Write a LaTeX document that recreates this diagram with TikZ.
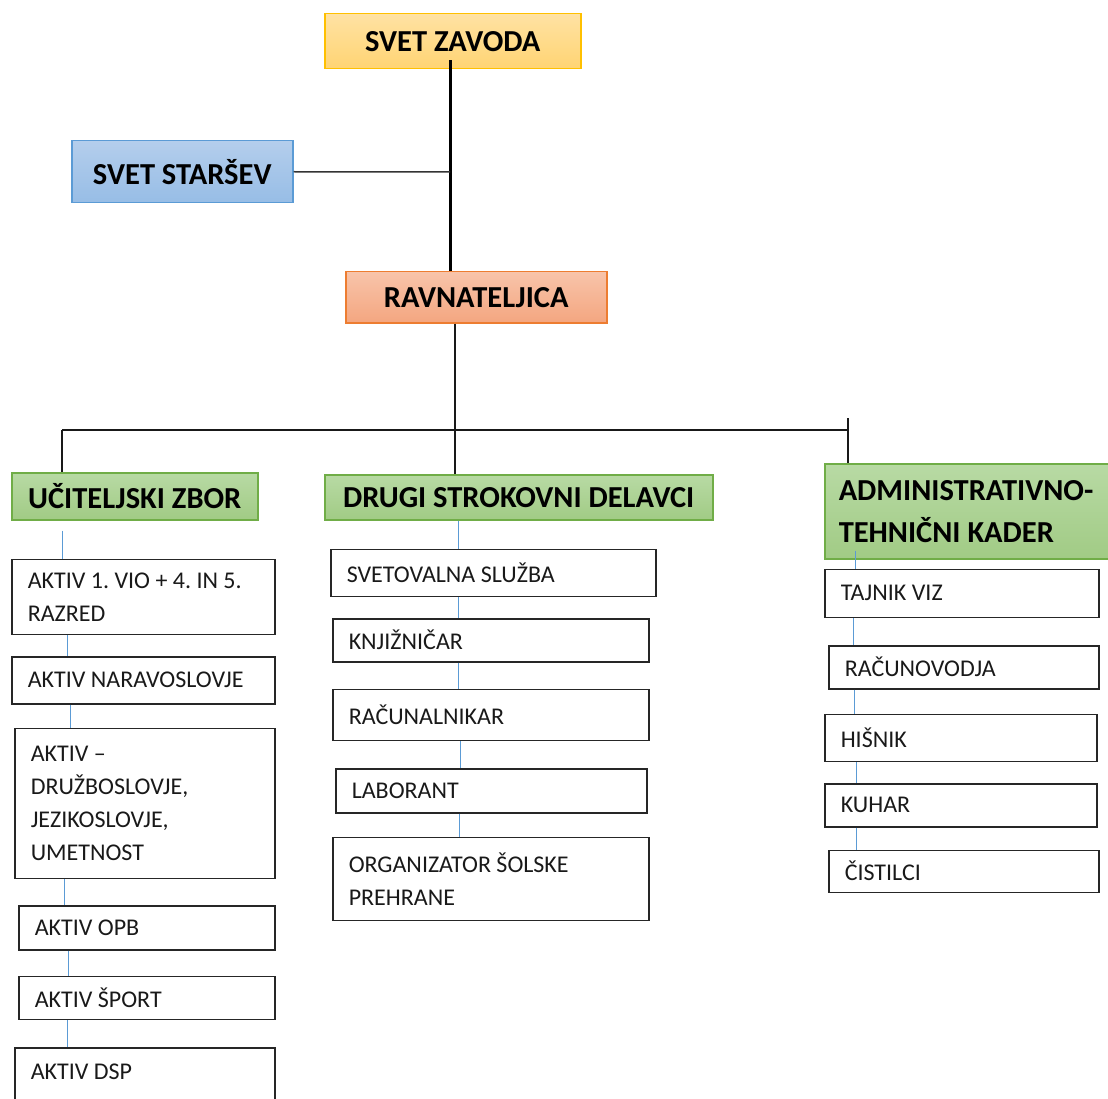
\documentclass[tikz,border=0pt]{standalone}
\usepackage{fontspec}
\setmainfont{Carlito}
\usetikzlibrary{positioning}

\definecolor{zavodline}{HTML}{FFC000}
\definecolor{zavodtop}{HTML}{FFE2A3}
\definecolor{zavodbot}{HTML}{FFD473}
\definecolor{starline}{HTML}{5B9BD5}
\definecolor{startop}{HTML}{B4CEEC}
\definecolor{starbot}{HTML}{97BDE6}
\definecolor{ravnline}{HTML}{ED7D31}
\definecolor{ravntop}{HTML}{F8C4AA}
\definecolor{ravnbot}{HTML}{F4A680}
\definecolor{greenline}{HTML}{70AD47}
\definecolor{greentop}{HTML}{B8DAA4}
\definecolor{greenbot}{HTML}{A1CB85}
\definecolor{linkblue}{HTML}{5B9BD5}

\tikzset{
  headbox/.style={draw, line width=1.5pt, inner sep=0pt, text=black,
    font=\fontsize{30.5}{42}\selectfont\bfseries\frenchspacing},
  zavodbox/.style={headbox, draw=zavodline, top color=zavodtop, bottom color=zavodbot},
  starbox/.style={headbox, draw=starline, top color=startop, bottom color=starbot},
  ravnbox/.style={headbox, draw=ravnline, top color=ravntop, bottom color=ravnbot},
  groupbox/.style={headbox, draw=greenline, top color=greentop, bottom color=greenbot},
  unit/.style={draw=black!85, line width=1.5pt, inner xsep=16pt, inner ysep=0pt,
    align=flush left, text=black!90, font=\fontsize{24}{33}\selectfont\frenchspacing},
  tree/.style={line width=2pt, black!90},
  link/.style={line width=1pt, linkblue}
}

\begin{document}
\begin{tikzpicture}
    \useasboundingbox (0,0) rectangle (1108pt,-1099pt);
    \clip (0,0) rectangle (1108pt,-1099pt);
    % vodstvo
    \node[zavodbox, anchor=north west, minimum width=256pt, minimum height=55pt] (zavod) at (324pt,-13pt) {SVET ZAVODA};
    \node[starbox, anchor=north west, minimum width=221pt, minimum height=62pt] (starsev) at (71pt,-140pt) {SVET STARŠEV};
    \node[ravnbox, anchor=north west, minimum width=261pt, minimum height=51pt] (ravn) at (345pt,-271pt) {RAVNATELJICA};
    % skupine
    \node[groupbox, anchor=north west, minimum width=246pt, minimum height=47pt] (ucit) at (11pt,-472pt) {UČITELJSKI ZBOR};
    \node[groupbox, anchor=north west, minimum width=388pt, minimum height=45pt] (drugi) at (324pt,-474pt) {DRUGI STROKOVNI DELAVCI};
    \node[groupbox, anchor=north west, inner xsep=14pt, text width=256pt, align=flush left, minimum height=95pt] (admin) at (824pt,-463pt) {ADMINISTRATIVNO-\\TEHNIČNI KADER};
    % aktivi
    \node[unit, below=38pt of ucit.south west, anchor=north west, text width=231pt, minimum height=75pt] (akt1) {AKTIV 1. VIO + 4. IN 5.\\RAZRED};
    \node[unit, below=21pt of akt1.south west, anchor=north west, text width=231pt, minimum height=47pt] (aktnar) {AKTIV NARAVOSLOVJE};
    \node[unit, below=23pt of aktnar.south west, anchor=north west, xshift=3pt, text width=228pt, minimum height=150pt] (aktdru) {AKTIV --\\DRUŽBOSLOVJE,\\JEZIKOSLOVJE,\\UMETNOST};
    \node[unit, below=26pt of aktdru.south west, anchor=north west, xshift=4pt, text width=224pt, minimum height=44pt] (aktopb) {AKTIV OPB};
    \node[unit, below=25pt of aktopb.south west, anchor=north west, text width=224pt, minimum height=43pt] (aktsport) {AKTIV ŠPORT};
    \node[unit, below=27pt of aktsport.south west, anchor=north west, xshift=-4pt, text width=228pt, minimum height=70pt, text depth=22pt] (aktdsp) {AKTIV DSP};
    % strokovni delavci
    \node[unit, below=28pt of drugi.south west, anchor=north west, xshift=6pt, text width=293pt, minimum height=47pt] (svet) {SVETOVALNA SLUŽBA};
    \node[unit, below=21pt of svet.south west, anchor=north west, xshift=2pt, text width=284pt, minimum height=43pt] (knj) {KNJIŽNIČAR};
    \node[unit, below=26pt of knj.south west, anchor=north west, text width=284pt, minimum height=51pt] (rac) {RAČUNALNIKAR};
    \node[unit, below=27pt of rac.south west, anchor=north west, xshift=3pt, text width=279pt, minimum height=44pt] (lab) {LABORANT};
    \node[unit, below=23pt of lab.south west, anchor=north west, xshift=-3pt, text width=284pt, minimum height=83pt] (org) {ORGANIZATOR ŠOLSKE\\PREHRANE};
    % administrativno-tehnicni kader
    \node[unit, below=9pt of admin.south west, anchor=north west, text width=242pt, minimum height=48pt] (tajnik) {TAJNIK VIZ};
    \node[unit, below=27pt of tajnik.south west, anchor=north west, xshift=4pt, text width=238pt, minimum height=43pt] (racun) {RAČUNOVODJA};
    \node[unit, below=24pt of racun.south west, anchor=north west, xshift=-4pt, text width=240pt, minimum height=47pt] (hisnik) {HIŠNIK};
    \node[unit, below=21pt of hisnik.south west, anchor=north west, text width=240pt, minimum height=43pt] (kuhar) {KUHAR};
    \node[unit, below=22pt of kuhar.south west, anchor=north west, xshift=4pt, text width=238pt, minimum height=42pt] (cist) {ČISTILCI};
    % povezave
    \coordinate (join) at (450pt,-172pt);
    \coordinate (bus) at (455pt,-430pt);
    \coordinate (busL) at (62pt,-430pt);
    \coordinate (busR) at (848pt,-430pt);
    \draw[line width=3pt] ([xshift=-2pt,yshift=9pt]zavod.south) -- ([xshift=-2pt]zavod.south |- ravn.north);
    \draw[line width=1.5pt, black!80] (starsev.east) -- (join);
    \draw[tree] (ravn.south -| bus) -- (bus);
    \draw[tree] (busL) -- (busR);
    \draw[tree] (busL) -- (busL |- ucit.north);
    \draw[tree] (bus) -- (bus |- drugi.north);
    \draw[tree] ([yshift=12pt]busR) -- (busR |- admin.north);
    \draw[link] ([xshift=51pt,yshift=-10pt]ucit.south west) -- ([xshift=51pt]ucit.south west |- akt1.north);
    \draw[link] ([xshift=56pt]akt1.south west) -- ([xshift=56pt]akt1.south west |- aktnar.north);
    \draw[link] ([xshift=59pt]aktnar.south west) -- ([xshift=59pt]aktnar.south west |- aktdru.north);
    \draw[link] ([xshift=50pt]aktdru.south west) -- ([xshift=50pt]aktdru.south west |- aktopb.north);
    \draw[link] ([xshift=50pt]aktopb.south west) -- ([xshift=50pt]aktopb.south west |- aktsport.north);
    \draw[link] ([xshift=49pt]aktsport.south west) -- ([xshift=49pt]aktsport.south west |- aktdsp.north);
    \draw[link] ([xshift=134pt]drugi.south west) -- ([xshift=134pt]drugi.south west |- svet.north);
    \draw[link] ([xshift=128pt]svet.south west) -- ([xshift=128pt]svet.south west |- knj.north);
    \draw[link] ([xshift=126pt]knj.south west) -- ([xshift=126pt]knj.south west |- rac.north);
    \draw[link] ([xshift=128pt]rac.south west) -- ([xshift=128pt]rac.south west |- lab.north);
    \draw[link] ([xshift=124pt]lab.south west) -- ([xshift=124pt]lab.south west |- org.north);
    \draw[link] ([xshift=31pt,yshift=9pt]admin.south west) -- ([xshift=31pt]admin.south west |- tajnik.north);
    \draw[link] ([xshift=29pt]tajnik.south west) -- ([xshift=29pt]tajnik.south west |- racun.north);
    \draw[link] ([xshift=26pt]racun.south west) -- ([xshift=26pt]racun.south west |- hisnik.north);
    \draw[link] ([xshift=32pt]hisnik.south west) -- ([xshift=32pt]hisnik.south west |- kuhar.north);
    \draw[link] ([xshift=32pt]kuhar.south west) -- ([xshift=32pt]kuhar.south west |- cist.north);
\end{tikzpicture}
\end{document}
